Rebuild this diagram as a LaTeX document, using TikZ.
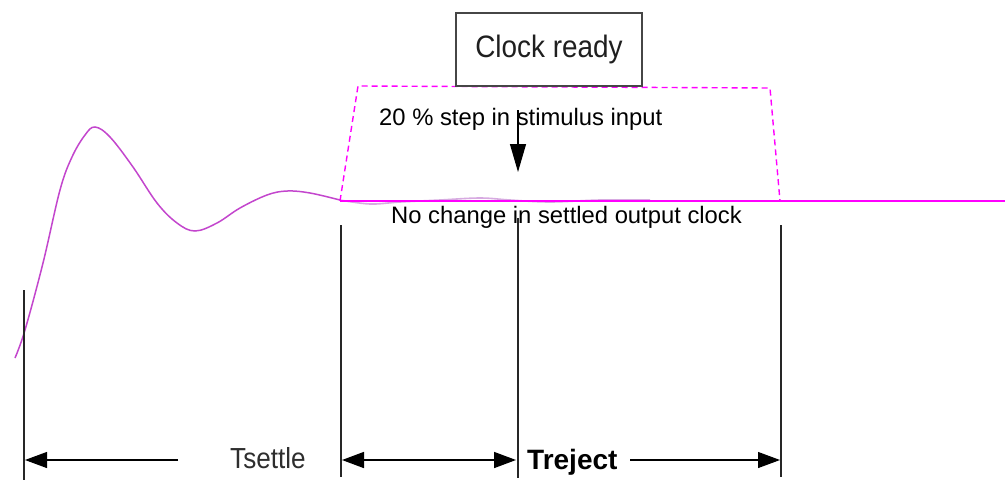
\documentclass[tikz,border=0pt]{standalone}
\usepackage{fontspec}
\setmainfont{Liberation Sans}
\newfontfamily\narrowfont[FakeStretch=0.9]{Liberation Sans}
\usetikzlibrary{arrows.meta}
\definecolor{curvecol}{RGB}{195,70,205}
\definecolor{pinkline}{RGB}{255,0,255}
\definecolor{faintcol}{RGB}{215,170,225}
\definecolor{boxgray}{RGB}{70,70,70}
\tikzset{
  vline/.style={draw=black!85, line width=1.2pt},
  dimarrow/.style={draw=black, line width=1.1pt, -{Triangle[length=22pt,width=16pt]}},
  dimboth/.style={draw=black, line width=1.6pt, {Triangle[length=22pt,width=16pt]}-{Triangle[length=22pt,width=16pt]}},
  trap/.style={draw=pinkline, line width=1.4pt, dash pattern=on 6pt off 4pt},
  lbl/.style={inner sep=0pt, anchor=base west},
}
\begin{document}
\begin{tikzpicture}[x=1pt,y=-1pt]
\useasboundingbox (0,0) rectangle (1005,480);
% response curve
\draw[faintcol, line width=1.6pt] plot[smooth, tension=0.6] coordinates {(340,200) (370,204) (400,202) (440,200) (480,198) (510,200) (550,202) (600,200) (650,200)};
\draw[curvecol, line width=1.5pt] plot[smooth, tension=0.6] coordinates {(15,358) (25,330) (43,263) (60,190) (72,157) (85,135) (95,127) (110,137) (133,167) (157,203) (177,223) (195,231) (217,223) (240,208) (267,195) (287,191) (310,193) (340,200)};
% settled level
\coordinate (s0) at (340,201);
\coordinate (s1) at (1005,201);
\draw[pinkline, line width=1.4pt] (s0) -- (s1);
% dashed trapezoid
\coordinate (t1) at (358,86);
\coordinate (t2) at (770,88);
\coordinate (t3) at (780,201);
\draw[trap] (s0) -- (t1) -- (t2) -- (t3);
% clock ready box
\node[draw=boxgray, line width=1.5pt, minimum width=186pt, minimum height=73pt, inner sep=0pt,
      font=\narrowfont\fontsize{31}{31}\selectfont, text=black!88] (clock) at (549,49.5) {Clock ready};
% texts
\node[lbl, font=\fontsize{23.8}{24}\selectfont] (step) at (379,125) {20 \% step in stimulus input};
\node[lbl, font=\fontsize{23.8}{24}\selectfont] (nochg) at (391,223) {No change in settled output clock};
% stimulus arrow
\coordinate (a0) at (518,110);
\coordinate (a1) at (518,172);
\draw[draw=black, line width=1.1pt, -{Triangle[length=28pt,width=16pt]}] (a0) -- (a1);
% vertical markers
\coordinate (v1t) at (24,290);  \coordinate (v1b) at (24,480);
\coordinate (v2t) at (341,225); \coordinate (v2b) at (341,477);
\coordinate (v3t) at (518,218); \coordinate (v3b) at (518,478);
\coordinate (v4t) at (781,225); \coordinate (v4b) at (781,477);
\draw[vline] (v1t) -- (v1b);
\draw[vline] (v2t) -- (v2b);
\draw[vline] (v3t) -- (v3b);
\draw[vline] (v4t) -- (v4b);
% dimension labels
\node[lbl, font=\narrowfont\fontsize{29}{29}\selectfont, text=black!82] (tset) at (230,468) {Tsettle};
\node[lbl, font=\bfseries\fontsize{28}{28}\selectfont] (trej) at (527,469) {Treject};
% dimension arrows
\coordinate (d1) at (178,460); \coordinate (d1e) at (25,460);
\coordinate (d2s) at (342,460); \coordinate (d2e) at (516,460);
\coordinate (d3) at (630,460); \coordinate (d3e) at (780,460);
\draw[dimarrow] (d1) -- (d1e);
\draw[dimboth] (d2s) -- (d2e);
\draw[dimarrow] (d3) -- (d3e);
\end{tikzpicture}
\end{document}
